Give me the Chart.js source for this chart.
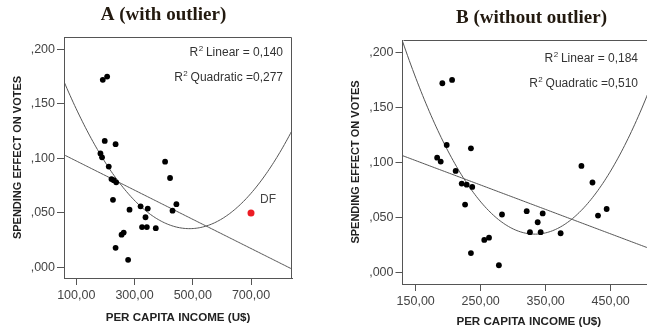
<!DOCTYPE html>
<html>
<head>
<meta charset="utf-8">
<script src="https://cdn.jsdelivr.net/npm/chart.js@4"></script>
<style>
html, body { margin: 0; padding: 0; background: #fff; overflow: hidden; width: 647px; height: 333px; }
canvas { position: absolute; top: 0; }
#chartA { left: 0; }
#chartB { left: 323px; }
</style>
</head>
<body>
<canvas id="chartA" width="323" height="333"></canvas>
<canvas id="chartB" width="342" height="333"></canvas>
<script>
// per capita income (U$) and spending effect on votes, one entry per state
const income = [191, 206, 197.7, 235, 183, 188.5, 211.5, 220.8, 228.5, 237, 226, 235, 255.5, 262.8,
                278, 282.8, 320.8, 325.8, 337.7, 345.4, 342.3, 373, 405, 422, 430.5, 443.8];
const effect = [0.172, 0.175, 0.116, 0.113, 0.1045, 0.101, 0.0925, 0.081, 0.080, 0.078, 0.062, 0.018, 0.030, 0.032,
                0.007, 0.053, 0.056, 0.037, 0.046, 0.054, 0.037, 0.036, 0.097, 0.082, 0.052, 0.058];
// the outlier shown only in panel A
const outlierIncome = [700];
const outlierEffect = [0.050];
const outlierLabel = 'DF';

const xTicksA = [100, 300, 500, 700];
const xTicksB = [150, 250, 350, 450];
const yTicks = [0, 0.05, 0.10, 0.15, 0.20];

// fitted curves: [b0, b1] and [b0, b1, b2]
const linearA = [0.1110, -1.338e-4];
const quadA = [0.2090, -7.097e-4, 7.26e-7];
const linearB = [0.1351, -2.215e-4];
const quadB = [0.5037, -2.8105e-3, 4.215e-6];
const r2A = ['0,140', '0,277'];
const r2B = ['0,184', '0,510'];

const sans = "'Liberation Sans', Arial, sans-serif";
const axisColor = '#555';

function curve(coef, min, max) {
  const pts = [];
  const n = 150;
  for (let i = 0; i <= n; i++) {
    const x = min + (max - min) * i / n;
    let y = 0;
    coef.forEach((c, k) => { y += c * Math.pow(x, k); });
    pts.push({ x: x, y: y });
  }
  return pts;
}

const fmtX = v => v.toFixed(2).replace('.', ',');
const fmtY = v => v.toFixed(3).replace(/^0\./, ',');

// draws the R² line as "R" + superscript 2 + rest, right aligned
function drawR2(ctx, right, baseline, rest) {
  ctx.font = '12px ' + sans;
  const wRest = ctx.measureText(rest).width;
  ctx.font = '8px ' + sans;
  const wSup = ctx.measureText('2').width;
  ctx.font = '12px ' + sans;
  const wR = ctx.measureText('R').width;
  let x = right - wRest - wSup - wR;
  ctx.textAlign = 'left';
  ctx.textBaseline = 'alphabetic';
  ctx.fillText('R', x, baseline);
  x += wR;
  ctx.font = '8px ' + sans;
  ctx.fillText('2', x + 0.5, baseline - 5);
  x += wSup;
  ctx.font = '12px ' + sans;
  ctx.fillText(rest, x, baseline);
}

function makePanel(id, cfg) {
  const extras = {
    id: 'extras',
    afterDraw(chart) {
      const ctx = chart.ctx;
      const a = chart.chartArea;
      ctx.save();
      // top and right sides of the plot box
      ctx.strokeStyle = axisColor;
      ctx.lineWidth = 1;
      ctx.beginPath();
      ctx.moveTo(Math.round(a.left) + 0.5, Math.round(a.top) + 0.5);
      ctx.lineTo(Math.round(a.right) - 0.5, Math.round(a.top) + 0.5);
      ctx.lineTo(Math.round(a.right) - 0.5, Math.round(a.bottom));
      ctx.stroke();
      // panel title
      ctx.fillStyle = '#231a10';
      ctx.font = "bold 19px 'Liberation Serif', 'Times New Roman', serif";
      ctx.textAlign = 'center';
      ctx.textBaseline = 'alphabetic';
      ctx.fillText(cfg.title, cfg.titleX, cfg.titleY);
      // R² texts
      ctx.fillStyle = '#333';
      drawR2(ctx, cfg.r2Right, cfg.r2Y[0], ' Linear = ' + cfg.r2[0]);
      drawR2(ctx, cfg.r2Right, cfg.r2Y[1], ' Quadratic =' + cfg.r2[1]);
      // outlier label
      if (cfg.outlier) {
        const xs = chart.scales.x, ys = chart.scales.y;
        ctx.fillStyle = '#444';
        ctx.font = '12px ' + sans;
        ctx.textAlign = 'left';
        ctx.textBaseline = 'middle';
        ctx.fillText(outlierLabel, xs.getPixelForValue(outlierIncome[0]) + 9, ys.getPixelForValue(outlierEffect[0]) - 13);
      }
      ctx.restore();
    }
  };

  const datasets = [
    {
      data: income.map((x, i) => ({ x: x, y: effect[i] })),
      pointRadius: 2.9,
      pointBackgroundColor: '#000',
      pointBorderWidth: 0,
      order: 0
    },
    {
      data: curve(cfg.linear, cfg.xMin, cfg.xMax),
      showLine: true, pointRadius: 0, borderColor: '#555', borderWidth: 1, order: 2
    },
    {
      data: curve(cfg.quad, cfg.xMin, cfg.xMax),
      showLine: true, pointRadius: 0, borderColor: '#555', borderWidth: 1, order: 2
    }
  ];
  if (cfg.outlier) {
    datasets.push({
      data: outlierIncome.map((x, i) => ({ x: x, y: outlierEffect[i] })),
      pointRadius: 3.5,
      pointBackgroundColor: '#ec1c24',
      pointBorderWidth: 0,
      order: 0
    });
  }

  return new Chart(document.getElementById(id), {
    type: 'scatter',
    data: { datasets: datasets },
    options: {
      responsive: false,
      animation: false,
      devicePixelRatio: 1,
      layout: { padding: cfg.padding },
      plugins: { legend: { display: false }, tooltip: { enabled: false } },
      scales: {
        x: {
          type: 'linear',
          min: cfg.xMin,
          max: cfg.xMax,
          afterBuildTicks: s => { s.ticks = cfg.xTicks.map(v => ({ value: v })); },
          afterFit: s => { s.height = cfg.xHeight; },
          ticks: { callback: fmtX, color: '#444', font: { family: sans, size: 12.5 }, padding: 3, maxRotation: 0, autoSkip: false },
          grid: { drawOnChartArea: false, tickLength: 7, color: axisColor },
          border: { color: axisColor },
          title: {
            display: true, text: 'PER CAPITA INCOME (U$)', color: '#222',
            font: { family: sans, size: 11.6, weight: 'bold' }, padding: { top: 0, bottom: cfg.xTitlePad }
          }
        },
        y: {
          type: 'linear',
          min: cfg.yMin,
          max: cfg.yMax,
          afterBuildTicks: s => { s.ticks = yTicks.map(v => ({ value: v })); },
          afterFit: s => { s.width = cfg.yWidth; },
          ticks: { callback: fmtY, color: '#444', font: { family: sans, size: 12.5 }, padding: 2, autoSkip: false },
          grid: { drawOnChartArea: false, tickLength: 7, color: axisColor },
          border: { color: axisColor },
          title: {
            display: true, text: 'SPENDING EFFECT ON VOTES', color: '#222',
            font: { family: sans, size: 11, weight: 'bold' }, padding: { top: cfg.yTitlePad, bottom: 0 }
          }
        }
      }
    },
    plugins: [extras]
  });
}

makePanel('chartA', {
  title: 'A (with outlier)', titleX: 163.5, titleY: 20,
  r2: r2A, r2Right: 283, r2Y: [56, 81],
  linear: linearA, quad: quadA, outlier: true,
  xMin: 57.8, xMax: 840.8, yMin: -0.0097, yMax: 0.2113,
  xTicks: xTicksA,
  padding: { left: 0, top: 37, right: 31, bottom: 0 },
  xHeight: 55, yWidth: 64, xTitlePad: 8, yTitlePad: 11
});

makePanel('chartB', {
  title: 'B (without outlier)', titleX: 531.5 - 323, titleY: 23,
  r2: r2B, r2Right: 638 - 323, r2Y: [62, 87],
  linear: linearB, quad: quadB, outlier: false,
  xMin: 129.7, xMax: 518.2, yMin: -0.0100, yMax: 0.2112,
  xTicks: xTicksB,
  padding: { left: 0, top: 40, right: 10, bottom: 0 },
  xHeight: 49, yWidth: 79.5, xTitlePad: 4, yTitlePad: 26
});
</script>
</body>
</html>
